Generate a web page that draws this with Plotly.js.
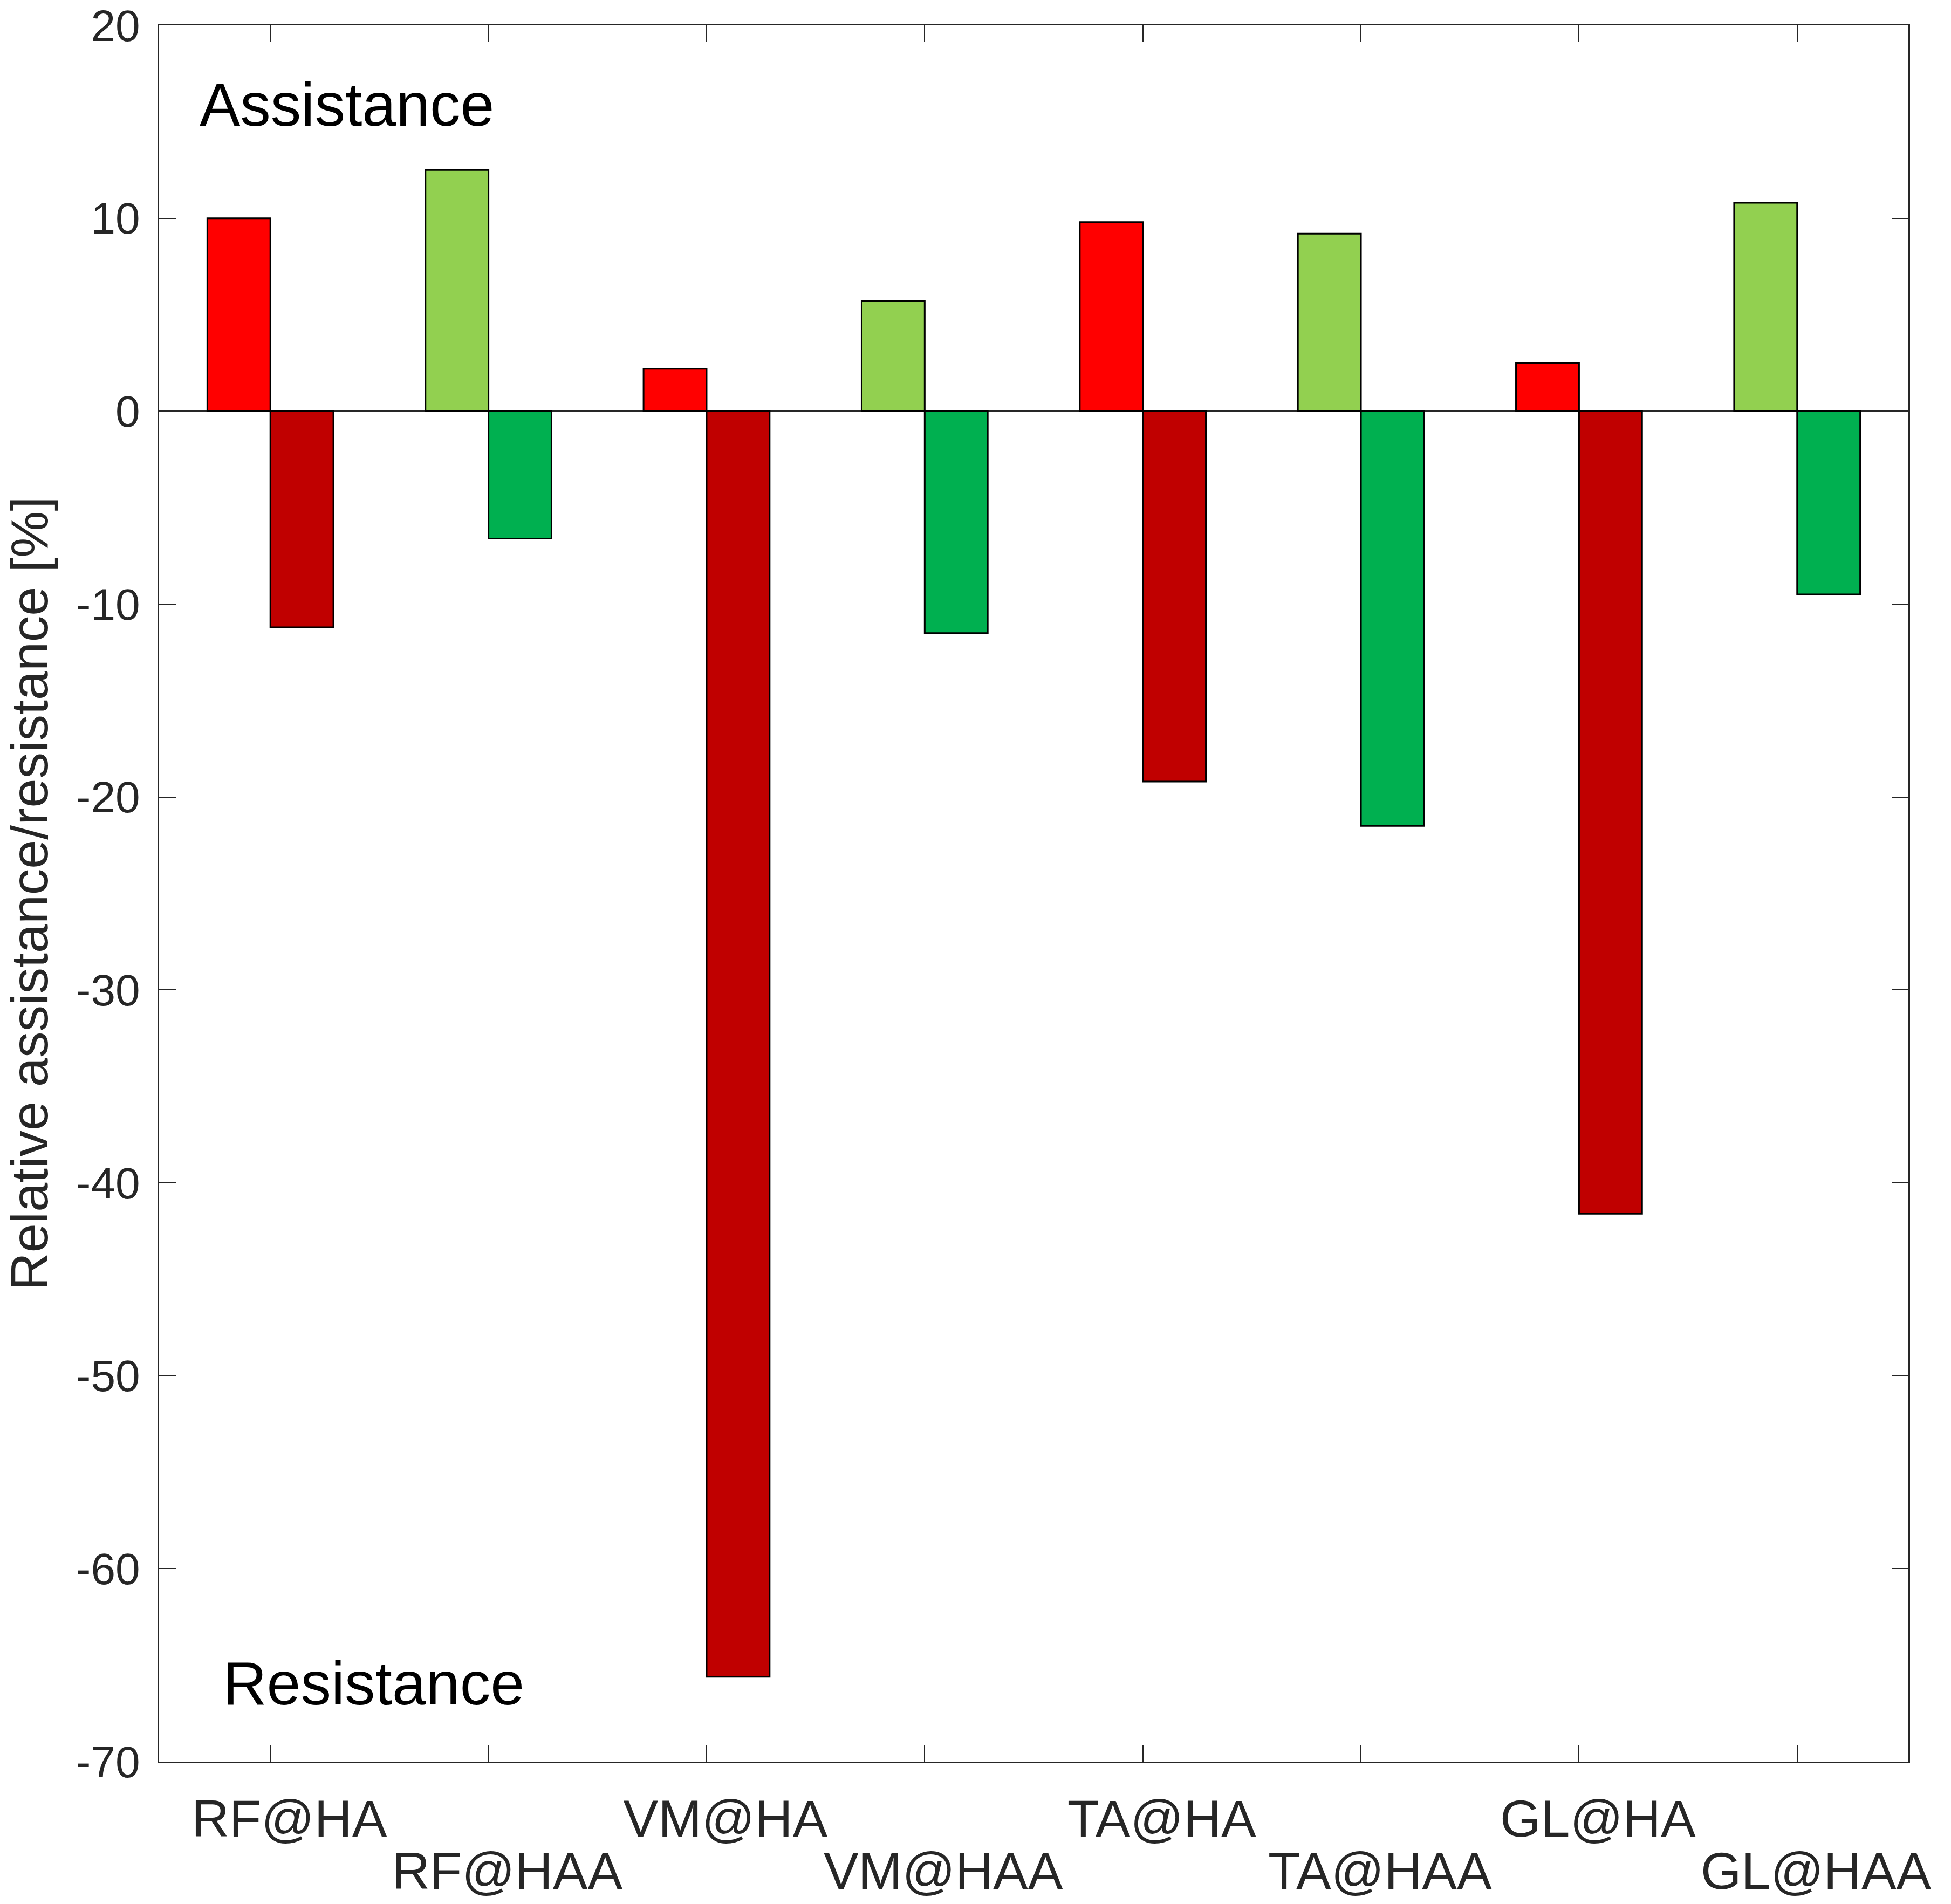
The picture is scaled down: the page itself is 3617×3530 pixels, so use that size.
<!DOCTYPE html>
<html>
<head>
<meta charset="utf-8">
<script src="https://cdn.plot.ly/plotly-3.0.1.min.js"></script>
<style>
  html, body { margin: 0; padding: 0; background: #fff; }
  #chart { width: 3617px; height: 3530px; }
</style>
</head>
<body>
<div id="chart"></div>
<script>
// muscle @ condition, in plotting order
const categories = ["RF@HA", "RF@HAA", "VM@HA", "VM@HAA", "TA@HA", "TA@HAA", "GL@HA", "GL@HAA"];
// relative assistance (positive part) and resistance (negative part), %
const assistance = [10.0, 12.5, 2.2, 5.7, 9.8, 9.2, 2.5, 10.8];
const resistance = [-11.2, -6.6, -65.6, -11.5, -19.2, -21.5, -41.6, -9.5];

const yTickVals = [20, 10, 0, -10, -20, -30, -40, -50, -60, -70];
const yTickText = ["20", "10", "0", "-10", "-20", "-30", "-40", "-50", "-60", "-70"];

const axisColor = "#262626";
const font = "Liberation Sans, Arial, sans-serif";

// HA bars are red, HAA bars are green
const isHAA = categories.map(c => c.endsWith("@HAA"));
const posColors = isHAA.map(h => h ? "#92D050" : "#FF0000");
const negColors = isHAA.map(h => h ? "#00B050" : "#C00000");

// tick labels are staggered in two rows: odd ones on the axis, even ones one row lower
const row1Text = categories.map((c, i) => i % 2 === 0 ? c : "");
const row2 = categories.filter((c, i) => i % 2 === 1);

const data = [
  {
    type: "bar",
    name: "assistance",
    x: categories,
    y: assistance,
    marker: { color: posColors, line: { color: "#000", width: 3 } }
  },
  {
    type: "bar",
    name: "resistance",
    x: categories,
    y: resistance,
    marker: { color: negColors, line: { color: "#000", width: 3 } }
  }
];

const annotations = row2.map(c => ({
  text: c,
  xref: "x", yref: "paper",
  x: c, y: -0.0454,
  xanchor: "center", yanchor: "top",
  xshift: 35,
  showarrow: false,
  font: { family: font, size: 97, color: axisColor }
}));

annotations.push(
  {
    text: "Assistance",
    xref: "paper", yref: "paper",
    x: 0.0225, y: 0.9745,
    xanchor: "left", yanchor: "top",
    showarrow: false,
    font: { family: font, size: 113, color: "#000" }
  },
  {
    text: "Resistance",
    xref: "paper", yref: "paper",
    x: 0.0358, y: 0.0652,
    xanchor: "left", yanchor: "top",
    showarrow: false,
    font: { family: font, size: 113, color: "#000" }
  }
);

const layout = {
  width: 3617,
  height: 3530,
  margin: { l: 295, r: 79, t: 47, b: 264 },
  paper_bgcolor: "#fff",
  plot_bgcolor: "#fff",
  showlegend: false,
  barmode: "group",
  bargap: 0.422,
  bargroupgap: 0,
  font: { family: font, color: axisColor },
  xaxis: {
    type: "category",
    range: [-0.51, 7.51],
    tickvals: categories,
    ticktext: row1Text,
    ticks: "inside",
    ticklen: 31,
    tickwidth: 2,
    tickcolor: axisColor,
    showline: true,
    linecolor: axisColor,
    linewidth: 3,
    mirror: "ticks",
    showgrid: false,
    zeroline: false,
    ticklabelstandoff: 20,
    ticklabelshift: 35,
    tickfont: { family: font, size: 97, color: axisColor }
  },
  yaxis: {
    range: [-70, 20],
    tickvals: yTickVals,
    ticktext: yTickText,
    ticks: "inside",
    ticklen: 31,
    tickwidth: 2,
    tickcolor: axisColor,
    showline: true,
    linecolor: axisColor,
    linewidth: 3,
    mirror: "ticks",
    showgrid: false,
    zeroline: true,
    zerolinecolor: axisColor,
    zerolinewidth: 3,
    ticklabelstandoff: 16,
    tickfont: { family: font, size: 82, color: axisColor },
    title: {
      text: "Relative assistance/resistance [%]",
      font: { family: font, size: 97, color: axisColor },
      standoff: 36
    }
  },
  annotations: annotations
};

Plotly.newPlot("chart", data, layout, { staticPlot: true });
</script>
</body>
</html>
